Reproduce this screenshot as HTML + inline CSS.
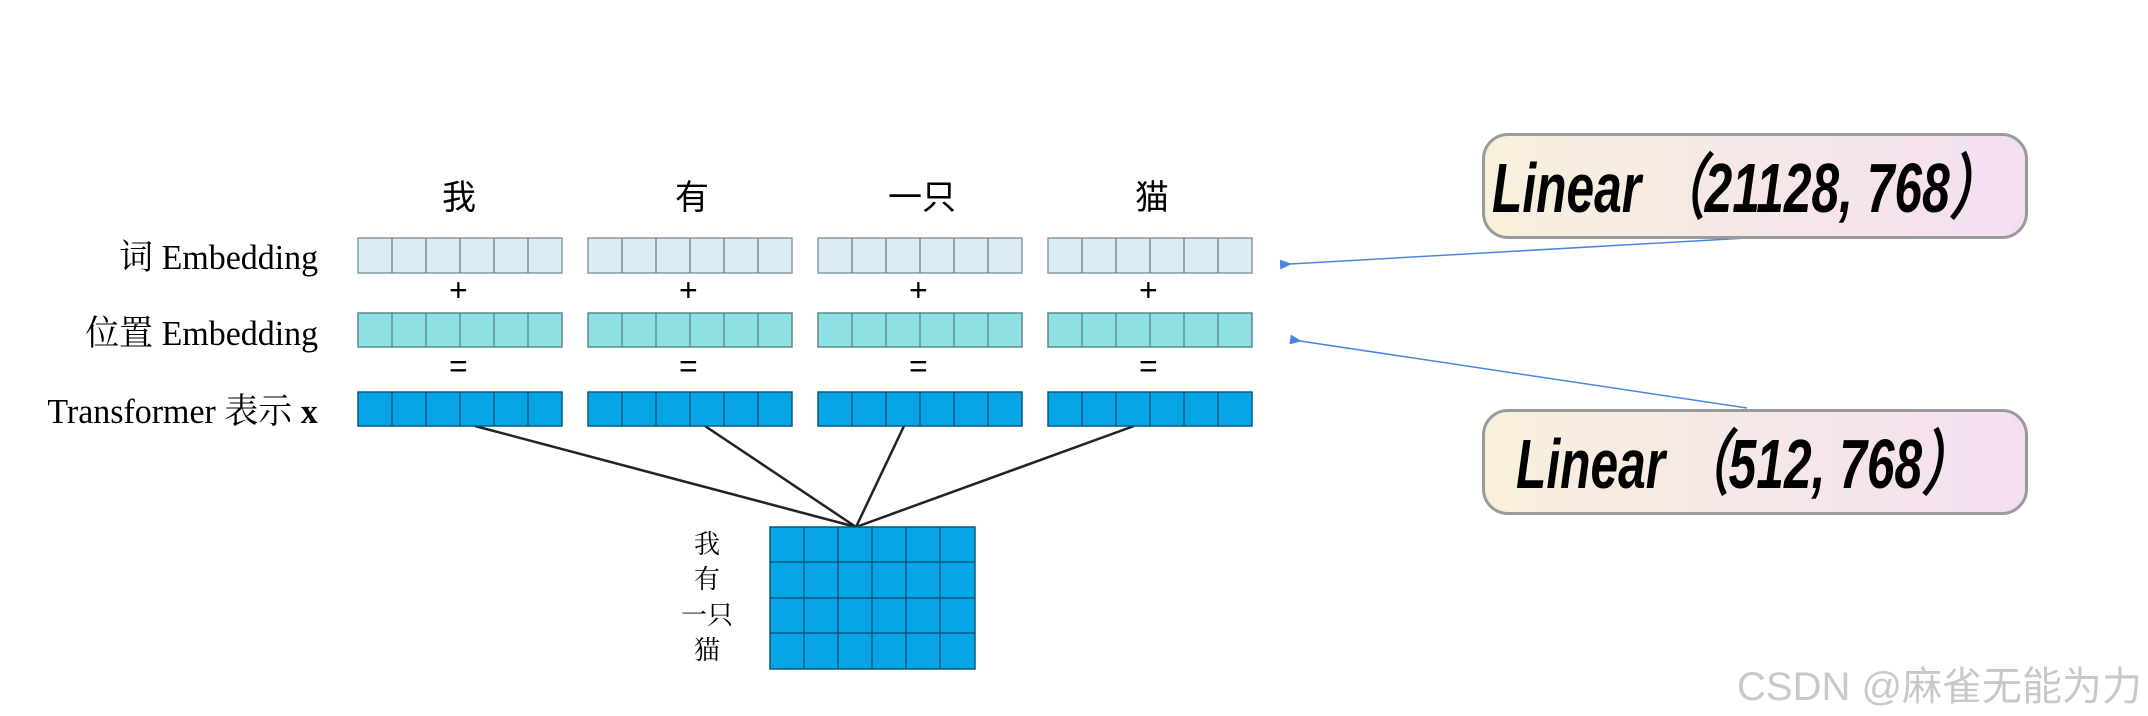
<!DOCTYPE html>
<html><head><meta charset="utf-8"><style>
html,body{margin:0;padding:0;background:#fff;}
body{width:2148px;height:716px;position:relative;overflow:hidden;font-family:"Liberation Serif","Noto Serif CJK SC",serif;}
.t{position:absolute;white-space:nowrap;}
.lab{position:absolute;white-space:nowrap;font-size:35px;transform:scaleX(0.97);transform-origin:right center;}
.box{position:absolute;left:1482px;width:546px;height:106px;border:3px solid #9a9a9a;border-radius:26px;background:linear-gradient(90deg,#f8f0dc,#f4dff2);box-sizing:border-box;}
.lin{position:absolute;font-family:"Liberation Sans Narrow","Liberation Sans",sans-serif;font-weight:bold;font-style:italic;font-size:70px;transform:scaleX(0.71);transform-origin:left center;white-space:pre;color:#000;}
</style></head><body>
<svg width="2148" height="716" style="position:absolute;left:0;top:0">
<defs>
<marker id="ah" markerWidth="12" markerHeight="10" refX="2" refY="5" orient="auto" markerUnits="userSpaceOnUse"><path d="M12,0 L0,5 L12,10 Z" fill="#4a86e0"/></marker>
</defs>
<g stroke="#222" stroke-width="2.5">
<line x1="475" y1="426" x2="856" y2="527"/>
<line x1="705" y1="426" x2="856" y2="527"/>
<line x1="904" y1="426" x2="856" y2="527"/>
<line x1="1134" y1="426" x2="856" y2="527"/>
</g>
<g stroke="#4a86e0" stroke-width="1.5" fill="none">
<line x1="1747" y1="238" x2="1290" y2="264" marker-end="url(#ah)"/>
<line x1="1747" y1="408" x2="1300" y2="341" marker-end="url(#ah)"/>
</g>
<g>
<rect x="358" y="238" width="204" height="35" fill="#dcecf4" stroke="#8a9aa0" stroke-width="1.5"/>
<rect x="588" y="238" width="204" height="35" fill="#dcecf4" stroke="#8a9aa0" stroke-width="1.5"/>
<rect x="818" y="238" width="204" height="35" fill="#dcecf4" stroke="#8a9aa0" stroke-width="1.5"/>
<rect x="1048" y="238" width="204" height="35" fill="#dcecf4" stroke="#8a9aa0" stroke-width="1.5"/>
<rect x="358" y="313" width="204" height="34" fill="#8fe0e2" stroke="#5a8a8a" stroke-width="1.5"/>
<rect x="588" y="313" width="204" height="34" fill="#8fe0e2" stroke="#5a8a8a" stroke-width="1.5"/>
<rect x="818" y="313" width="204" height="34" fill="#8fe0e2" stroke="#5a8a8a" stroke-width="1.5"/>
<rect x="1048" y="313" width="204" height="34" fill="#8fe0e2" stroke="#5a8a8a" stroke-width="1.5"/>
<rect x="358" y="392" width="204" height="34" fill="#05a5e6" stroke="#0a5a80" stroke-width="1.5"/>
<rect x="588" y="392" width="204" height="34" fill="#05a5e6" stroke="#0a5a80" stroke-width="1.5"/>
<rect x="818" y="392" width="204" height="34" fill="#05a5e6" stroke="#0a5a80" stroke-width="1.5"/>
<rect x="1048" y="392" width="204" height="34" fill="#05a5e6" stroke="#0a5a80" stroke-width="1.5"/>
<rect x="770" y="527" width="205" height="142" fill="#05a5e6" stroke="#0a5a80" stroke-width="1.5"/>
</g>
<g stroke="#5a7a88" stroke-width="1.2">
<path d="M392,238v35M426,238v35M460,238v35M494,238v35M528,238v35 M622,238v35M656,238v35M690,238v35M724,238v35M758,238v35 M852,238v35M886,238v35M920,238v35M954,238v35M988,238v35 M1082,238v35M1116,238v35M1150,238v35M1184,238v35M1218,238v35"/>
<path d="M392,313v34M426,313v34M460,313v34M494,313v34M528,313v34 M622,313v34M656,313v34M690,313v34M724,313v34M758,313v34 M852,313v34M886,313v34M920,313v34M954,313v34M988,313v34 M1082,313v34M1116,313v34M1150,313v34M1184,313v34M1218,313v34"/>
</g>
<g stroke="#0a4a70" stroke-width="1.2">
<path d="M392,392v34M426,392v34M460,392v34M494,392v34M528,392v34 M622,392v34M656,392v34M690,392v34M724,392v34M758,392v34 M852,392v34M886,392v34M920,392v34M954,392v34M988,392v34 M1082,392v34M1116,392v34M1150,392v34M1184,392v34M1218,392v34"/>
<path d="M804,527v142M838,527v142M872,527v142M906,527v142M940,527v142 M770,562h205M770,598h205M770,633h205"/>
</g>
</svg>
<div class="t" style="left:442px;top:170px;font-size:34px;font-family:'Noto Sans CJK SC',sans-serif;">我</div>
<div class="t" style="left:675px;top:170px;font-size:34px;font-family:'Noto Sans CJK SC',sans-serif;">有</div>
<div class="t" style="left:888px;top:170px;font-size:34px;font-family:'Noto Sans CJK SC',sans-serif;">一只</div>
<div class="t" style="left:1135px;top:170px;font-size:34px;font-family:'Noto Sans CJK SC',sans-serif;">猫</div>
<div class="t" style="left:449px;top:272px;font-size:32px;font-family:'Liberation Sans',sans-serif;">+</div>
<div class="t" style="left:679px;top:272px;font-size:32px;font-family:'Liberation Sans',sans-serif;">+</div>
<div class="t" style="left:909px;top:272px;font-size:32px;font-family:'Liberation Sans',sans-serif;">+</div>
<div class="t" style="left:1139px;top:272px;font-size:32px;font-family:'Liberation Sans',sans-serif;">+</div>
<div class="t" style="left:449px;top:348px;font-size:32px;font-family:'Liberation Sans',sans-serif;">=</div>
<div class="t" style="left:679px;top:348px;font-size:32px;font-family:'Liberation Sans',sans-serif;">=</div>
<div class="t" style="left:909px;top:348px;font-size:32px;font-family:'Liberation Sans',sans-serif;">=</div>
<div class="t" style="left:1139px;top:348px;font-size:32px;font-family:'Liberation Sans',sans-serif;">=</div>
<div class="lab" style="right:1830px;top:230px;">词 Embedding</div>
<div class="lab" style="right:1830px;top:306px;">位置 Embedding</div>
<div class="lab" style="right:1830px;top:384px;">Transformer 表示 <b>x</b></div>
<div class="t" style="left:694px;top:527px;font-size:26px;line-height:35px;">我<br>有</div>
<div class="t" style="left:681px;top:598px;font-size:26px;line-height:35px;">一只</div>
<div class="t" style="left:694px;top:633px;font-size:26px;line-height:35px;">猫</div>
<div class="box" style="top:133px;"></div>
<div class="box" style="top:409px;"></div>
<div class="lin" style="left:1492px;top:132px;">Linear （21128, 768）</div>
<div class="lin" style="left:1516px;top:408px;">Linear （512, 768）</div>
<div class="t" style="left:1737px;top:654px;font-size:40px;color:#c8c8c8;font-family:'Liberation Sans','Noto Sans CJK SC',sans-serif;">CSDN @麻雀无能为力</div>
</body></html>
